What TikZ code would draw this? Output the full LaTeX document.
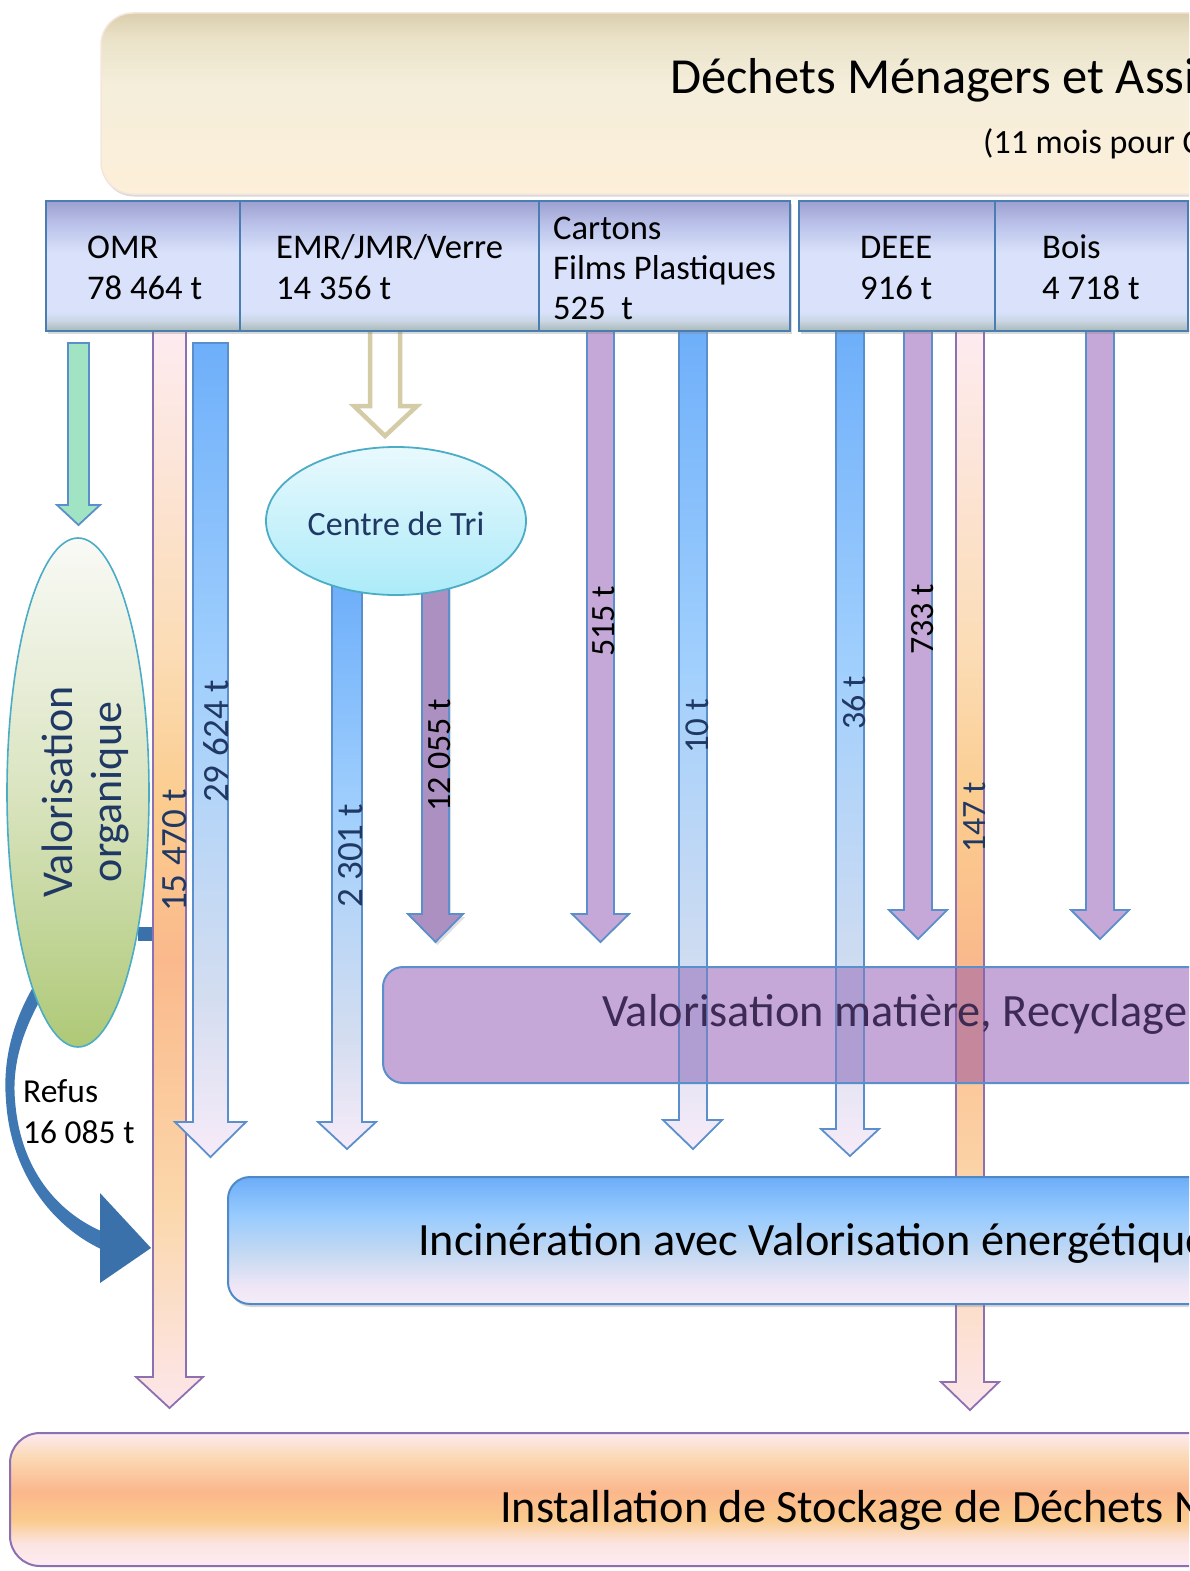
\documentclass[tikz,border=0pt]{standalone}
\usepackage{fontspec}
\setmainfont{Carlito}
\usetikzlibrary{shadows}

\definecolor{hdrA}{HTML}{9CA0CF}
\definecolor{hdrA2}{HTML}{BBC2EA}
\definecolor{hdrB}{HTML}{D9E2FA}
\definecolor{hdrB2}{HTML}{CBD6E6}
\definecolor{hdrC}{HTML}{A8B8B4}
\definecolor{hdrBorder}{HTML}{4A7DB1}
\definecolor{arrBlueB}{HTML}{5B8FCB}
\definecolor{arrPurpleF}{HTML}{C5A8D8}
\definecolor{arrPurpleD}{HTML}{AD90C2}
\definecolor{arrOrangeB}{HTML}{8C70B1}
\definecolor{greenF}{HTML}{A1E4C3}
\definecolor{tanB}{HTML}{D3CCA7}
\definecolor{refusBlue}{HTML}{3E77B1}
\definecolor{refusDark}{HTML}{3A71AA}
\definecolor{txtBlue}{HTML}{1F3864}
\definecolor{ellB}{HTML}{4BACC6}
\definecolor{valoTxt}{HTML}{3D2B55}
\definecolor{valoFill}{HTML}{C5A8D8}
\definecolor{mixBlue}{HTML}{B09DD2}
\definecolor{mixBlueB}{HTML}{6D86C4}
\definecolor{mixOr}{HTML}{C4879B}
\definecolor{mixOrB}{HTML}{8A66AC}
\definecolor{incB}{HTML}{4F89C7}
\definecolor{banB}{HTML}{F5E6DC}
% shading colours
\definecolor{bl1}{HTML}{F7EBF8}
\definecolor{bl2}{HTML}{D3DDF0}
\definecolor{bl3}{HTML}{A0CFFD}
\definecolor{bl4}{HTML}{6EAFFA}
\definecolor{or1}{HTML}{FCE6EA}
\definecolor{or2}{HTML}{FBD7AA}
\definecolor{or3}{HTML}{FAB98C}
\definecolor{or4}{HTML}{FBCC8E}
\definecolor{or5}{HTML}{FBDCB5}
\definecolor{or6}{HTML}{FDEBF0}
\definecolor{in1}{HTML}{F6ECF8}
\definecolor{in2}{HTML}{EEE6F6}
\definecolor{in3}{HTML}{C4D9F2}
\definecolor{in4}{HTML}{98CBFE}
\definecolor{in5}{HTML}{6CADF8}
\definecolor{is1}{HTML}{FDEBF2}
\definecolor{is2}{HTML}{FCE4E2}
\definecolor{is3}{HTML}{FACA8C}
\definecolor{is4}{HTML}{FBB78C}
\definecolor{is5}{HTML}{FBD9B5}
\definecolor{ba1}{HTML}{FDEFD9}
\definecolor{ba2}{HTML}{F4EEDB}
\definecolor{ba3}{HTML}{EAE2C8}
\definecolor{ba4}{HTML}{DACEAE}
\definecolor{og1}{HTML}{AEC977}
\definecolor{og2}{HTML}{DAE4C0}
\definecolor{og3}{HTML}{F9FAF6}
\definecolor{tr1}{HTML}{ACEBF9}
\definecolor{tr2}{HTML}{E8F9FD}

\pgfdeclareverticalshading{hdrshade}{100bp}{color(0bp)=(hdrC); color(25bp)=(hdrC); color(29bp)=(hdrB2); color(32.5bp)=(hdrB); color(55bp)=(hdrB); color(66bp)=(hdrA2); color(75bp)=(hdrA); color(100bp)=(hdrA)}
\pgfdeclareverticalshading{blueshade}{100bp}{color(0bp)=(bl1); color(25bp)=(bl1); color(35bp)=(bl2); color(55bp)=(bl3); color(75bp)=(bl4); color(100bp)=(bl4)}
\pgfdeclareverticalshading{orashade}{100bp}{color(0bp)=(or1); color(25bp)=(or1); color(34.5bp)=(or2); color(45.8bp)=(or3); color(53bp)=(or4); color(60bp)=(or5); color(75bp)=(or6); color(100bp)=(or6)}
\pgfdeclareverticalshading{incshade}{100bp}{color(0bp)=(in1); color(25bp)=(in1); color(32bp)=(in2); color(45bp)=(in3); color(60bp)=(in4); color(75bp)=(in5); color(100bp)=(in5)}
\pgfdeclareverticalshading{isdshade}{100bp}{color(0bp)=(is1); color(25bp)=(is1); color(33.5bp)=(is2); color(42.5bp)=(is3); color(53bp)=(is4); color(66bp)=(is5); color(75bp)=(is1); color(100bp)=(is1)}
\pgfdeclareverticalshading{banshade}{100bp}{color(0bp)=(ba1); color(25bp)=(ba1); color(55bp)=(ba2); color(68bp)=(ba3); color(75bp)=(ba4); color(100bp)=(ba4)}
\pgfdeclareverticalshading{orgshade}{100bp}{color(0bp)=(og1); color(25bp)=(og1); color(50bp)=(og2); color(75bp)=(og3); color(100bp)=(og3)}
\pgfdeclareverticalshading{trishade}{100bp}{color(0bp)=(tr1); color(25bp)=(tr1); color(75bp)=(tr2); color(100bp)=(tr2)}

% block arrow: [style]{xl}{xr}{ytop}{yheadbase}{headl}{headr}{ytip}
\newcommand{\blockarr}[8][]{%
  \path[#1] (#2,#4) -- (#2,#5) -- (#6,#5) -- ({(#2+#3)/2},#8) -- (#7,#5) -- (#3,#5) -- (#3,#4) -- cycle;}

\begin{document}
\begin{tikzpicture}[x=1pt,y=-1pt,
  hdrbox/.style={draw=hdrBorder, line width=2.2pt, shade, shading=hdrshade,
     drop shadow={shadow xshift=1.5pt, shadow yshift=-3pt, opacity=0.3}},
  hdrtxt/.style={font=\fontsize{34.6}{40}\selectfont, anchor=base west, inner sep=0pt, text=black},
  bluearr/.style={draw=arrBlueB, line width=1.8pt, line join=miter, shade, shading=blueshade},
  purparr/.style={draw=arrBlueB, line width=1.8pt, line join=miter, fill=arrPurpleF},
  oraarr/.style={draw=arrOrangeB, line width=1.8pt, line join=miter, shade, shading=orashade},
  lbl/.style={rotate=90, anchor=base west, inner sep=0pt, font=\fontsize{34}{40}\selectfont},
  biglbl/.style={anchor=base west, inner sep=0pt, font=\fontsize{46.3}{52}\selectfont}]
\useasboundingbox (0,0) rectangle (1189,1571);
\clip (0,0) rectangle (1189,1571);

% ---- top banner
\path[shade, shading=banshade, draw=banB, line width=1.5pt, rounded corners=32pt,
  drop shadow={shadow xshift=1pt, shadow yshift=-2.5pt, opacity=0.3}] (101,13) rectangle (1320,194);
\node[anchor=base west, inner sep=0pt, font=\fontsize{50.5}{56}\selectfont] (title) at (670,93) {Déchets Ménagers et Assimilés};
\node[anchor=base west, inner sep=0pt, font=\fontsize{34}{40}\selectfont] (subtitle) at (983,153) {(11 mois pour C};

% ---- Refus curved arrow (behind organic ellipse)
\fill[refusBlue] (36,982) .. controls (10,1025) and (3,1065) .. (6,1100)
   .. controls (10,1170) and (50,1225) .. (101,1249) -- (101,1231)
   .. controls (58,1212) and (20,1170) .. (15,1100)
   .. controls (12,1065) and (22,1030) .. (46,990) -- cycle;
\fill[refusDark] (100,1193) -- (151,1248) -- (100,1283) -- cycle;
\fill[refusDark] (138,927) rectangle (152,941);

% ---- block arrows
\blockarr[draw=arrBlueB, line width=1.8pt, line join=miter, fill=greenF]{68}{89}{343}{505}{57}{100}{525}
\blockarr[oraarr]{153}{186}{330}{1377}{136}{203}{1408}
\blockarr[bluearr]{193}{228}{343}{1122}{175}{246}{1157}
\blockarr[draw=tanB, line width=4.5pt, line join=miter, fill=white]{370}{400}{325}{406}{354}{417}{436}
\blockarr[bluearr]{332}{362}{585}{1122}{318}{376}{1149}
\blockarr[draw=arrBlueB, line width=1.8pt, line join=miter, fill=arrPurpleD,
   drop shadow={shadow xshift=2pt, shadow yshift=-3pt, opacity=0.25}]{422}{449}{585}{914}{408}{463}{942}
\blockarr[purparr]{587}{614}{330}{914}{572}{629}{942}
\blockarr[bluearr]{679}{707}{330}{1120}{663}{722}{1149}
\blockarr[bluearr]{836}{864}{330}{1129}{821}{879}{1156}
\blockarr[purparr]{904}{932}{330}{910}{889}{947}{939}
\blockarr[oraarr]{956}{984}{330}{1382}{941}{999}{1410}
\blockarr[purparr]{1086}{1114}{330}{910}{1071}{1129}{939}

% ---- header boxes
\path[hdrbox] (46,201) rectangle (240,331);
\path[hdrbox] (240,201) rectangle (539,331);
\path[hdrbox] (539,201) rectangle (790,331);
\path[hdrbox] (799,201) rectangle (995,331);
\path[hdrbox] (995,201) rectangle (1188,331);
\path[hdrbox] (1188,201) rectangle (1400,331);
\node[hdrtxt] (omr1) at (87,258) {OMR};
\node[hdrtxt] (omr2) at (87,299) {78 464 t};
\node[hdrtxt] (emr1) at (276,258) {EMR/JMR/Verre};
\node[hdrtxt] (emr2) at (276,299) {14 356 t};
\node[hdrtxt] (car1) at (553,239) {Cartons};
\node[hdrtxt] (car2) at (553,279) {Films Plastiques};
\node[hdrtxt] (car3) at (553,319) {525\ \ t};
\node[hdrtxt] (deee1) at (860,258) {DEEE};
\node[hdrtxt] (deee2) at (860,299) {916 t};
\node[hdrtxt] (bois1) at (1042,258) {Bois};
\node[hdrtxt] (bois2) at (1042,299) {4 718 t};

% ---- ellipses
\path[shade, shading=orgshade, draw=ellB, line width=1.6pt] (78,792.5) ellipse [x radius=71pt, y radius=254.5pt];
\node[rotate=90, anchor=base, inner sep=0pt, font=\fontsize{44}{50}\selectfont, text=txtBlue] (vo1) at (72,792) {Valorisation};
\node[rotate=90, anchor=base, inner sep=0pt, font=\fontsize{44}{50}\selectfont, text=txtBlue] (vo2) at (121,792) {organique};

\path[shade, shading=trishade, draw=ellB, line width=1.8pt] (396,521) ellipse [x radius=130pt, y radius=74pt];
\node[anchor=base, inner sep=0pt, font=\fontsize{34}{40}\selectfont, text=txtBlue] (tri) at (396,535) {Centre de Tri};

% ---- Valorisation matiere box
\path[fill=valoFill, draw=arrBlueB, line width=2pt, rounded corners=20pt] (383,967) rectangle (1320,1083);
\fill[mixBlue] (679,968) rectangle (707,1082);
\draw[mixBlueB, line width=1.8pt] (679,968) -- (679,1082) (707,968) -- (707,1082);
\fill[mixBlue] (836,968) rectangle (864,1082);
\draw[mixBlueB, line width=1.8pt] (836,968) -- (836,1082) (864,968) -- (864,1082);
\fill[mixOr] (956,968) rectangle (984,1082);
\draw[mixOrB, line width=1.8pt] (956,968) -- (956,1082) (984,968) -- (984,1082);
\draw[arrBlueB, line width=2pt] (600,967) -- (1189,967) (600,1083) -- (1189,1083);
\node[biglbl, text=valoTxt] (valo) at (602,1026) {Valorisation matière, Recyclage};

% ---- Incineration box
\path[shade, shading=incshade, draw=incB, line width=2pt, rounded corners=22pt,
  drop shadow={shadow xshift=1.5pt, shadow yshift=-3pt, opacity=0.3}] (228,1177) rectangle (1320,1304);
\node[biglbl, text=black] (inc) at (418,1255) {Incinération avec Valorisation énergétique};

% ---- ISDND box
\path[shade, shading=isdshade, draw=arrOrangeB, line width=2pt, rounded corners=30pt] (10,1433) rectangle (1320,1566);
\node[biglbl, text=black] (isd) at (500,1522) {Installation de Stockage de Déchets Non Dangereux};

% ---- Refus label
\node[anchor=base west, inner sep=0pt, font=\fontsize{33.5}{40}\selectfont] (ref1) at (23,1102) {Refus};
\node[anchor=base west, inner sep=0pt, font=\fontsize{33.5}{40}\selectfont] (ref2) at (23,1143) {16 085 t};

% ---- arrow labels
\node[lbl, text=txtBlue, font=\fontsize{37}{42}\selectfont] (l15470) at (186,912) {15 470 t};
\node[lbl, text=txtBlue, font=\fontsize{37}{42}\selectfont] (l29624) at (228,803) {29 624 t};
\node[lbl, text=txtBlue, font=\fontsize{37}{42}\selectfont] (l2301) at (362,908) {2 301 t};
\node[lbl, text=black] (l12055) at (450,812) {12 055 t};
\node[lbl, text=black] (l515) at (614,657) {515 t};
\node[lbl, text=txtBlue, font=\fontsize{35}{40}\selectfont] (l10) at (708,754) {10 t};
\node[lbl, text=txtBlue] (l36) at (865,730) {36 t};
\node[lbl, text=black] (l733) at (933,655) {733 t};
\node[lbl, text=txtBlue] (l147) at (985,853) {147 t};
\end{tikzpicture}
\end{document}
